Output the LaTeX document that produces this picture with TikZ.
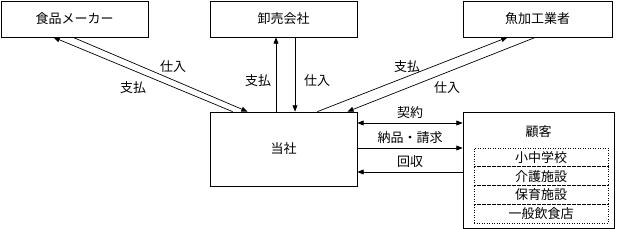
\documentclass[tikz,border=0pt]{standalone}
\usepackage{fontspec}
\setmainfont{Noto Sans CJK JP}
\usetikzlibrary{arrows.meta}

\begin{document}
\begin{tikzpicture}[x=1pt,y=-1pt,font=\fontsize{13}{15}\selectfont,
  box/.style={draw,line width=0.7pt,inner sep=0pt},
  arr/.style={line width=0.7pt,-{Triangle[length=2.2mm,width=1.7mm]}},
  darr/.style={line width=0.7pt,{Triangle[length=2.2mm,width=1.7mm]}-{Triangle[length=2.2mm,width=1.7mm]}}]
  \useasboundingbox (0,0) rectangle (621,229);
  \node[box,minimum width=147pt,minimum height=36pt] (maker) at (74.5,19) {食品メーカー};
  \node[box,minimum width=147pt,minimum height=36pt] (oroshi) at (283.5,19) {卸売会社};
  \node[box,minimum width=149pt,minimum height=36pt] (sakana) at (537.5,19) {魚加工業者};
  \node[box,minimum width=147pt,minimum height=74pt] (tosha) at (283.5,149) {当社};
  \node[box,minimum width=151pt,minimum height=116pt] (kokyaku) at (538.5,170) {};
  \node (kokyakulbl) at (538.5,132) {顧客};
  \foreach \t [count=\i] in {小中学校,介護施設,保育施設,一般飲食店}
    \node[draw,dotted,line width=0.5pt,inner sep=0pt,minimum width=134pt,minimum height=18.75pt] (row\i) at (541,{138.6+18.75*\i}) {\t};
  % 仕入先との流れ
  \draw[arr] ([xshift=23pt]tosha.north west) -- ([xshift=-21pt]maker.south);
  \draw[arr] ([xshift=-1.5pt]maker.south) -- ([xshift=38pt]tosha.north west);
  \draw[arr] ([xshift=-7.5pt]tosha.north) -- ([xshift=-7.5pt]oroshi.south);
  \draw[arr] ([xshift=11.5pt]oroshi.south) -- ([xshift=11.5pt]tosha.north);
  \draw[arr] ([xshift=-40pt]tosha.north east) -- ([xshift=-30pt]sakana.south);
  \draw[arr] ([xshift=-2pt]sakana.south) -- ([xshift=-10pt]tosha.north east);
  \node (mkbuy) at (173,67) {仕入};
  \node (mkpay) at (133,88) {支払};
  \node (orpay) at (258,81) {支払};
  \node (orbuy) at (317,81) {仕入};
  \node (skpay) at (407,67) {支払};
  \node (skbuy) at (447,88) {仕入};
  % 顧客との流れ
  \coordinate (k1) at ([yshift=26pt]tosha.east);
  \coordinate (k2) at ([yshift=1pt]tosha.east);
  \coordinate (k3) at ([yshift=-23pt]tosha.east);
  \draw[darr] (k1) -- (k1 -| kokyaku.west) node[midway,above=1pt] {契約};
  \draw[arr] (k2) -- (k2 -| kokyaku.west) node[midway,above=1pt] {納品・請求};
  \draw[arr] (k3 -| kokyaku.west) -- (k3) node[midway,above=1pt] {回収};
\end{tikzpicture}
\end{document}
